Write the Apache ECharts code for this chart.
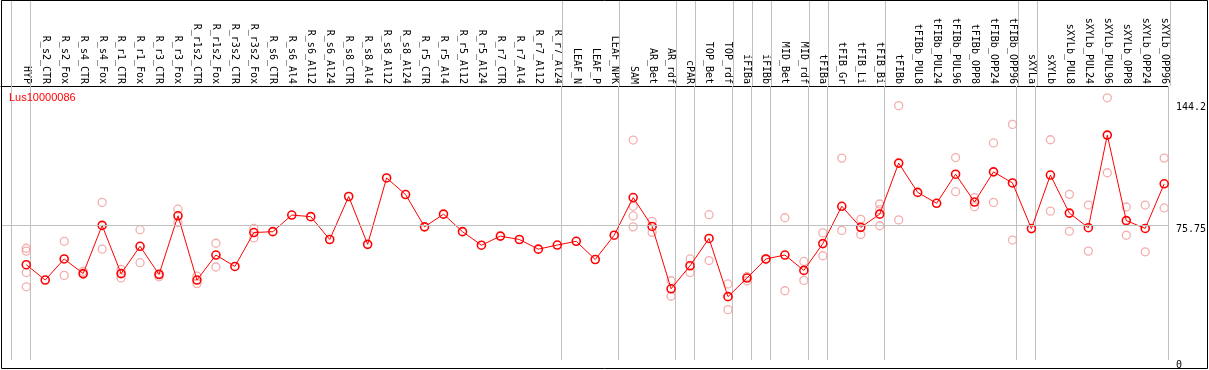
<!DOCTYPE html>
<html>
<head>
<meta charset="utf-8">
<script src="https://cdn.jsdelivr.net/npm/echarts@6/dist/echarts.min.js"></script>
<style>
html,body{margin:0;padding:0;background:#fff;}
#chart{width:1209px;height:370px;}
</style>
</head>
<body>
<div id="chart"></div>
<script>
const titleText = 'Lus10000086';

const categories = ['HYP','R_s2_CTR','R_s2_Fox','R_s4_CTR','R_s4_Fox','R_r1_CTR','R_r1_Fox','R_r3_CTR','R_r3_Fox',
  'R_r1s2_CTR','R_r1s2_Fox','R_r3s2_CTR','R_r3s2_Fox','R_s6_CTR','R_s6_Al4','R_s6_Al12','R_s6_Al24',
  'R_s8_CTR','R_s8_Al4','R_s8_Al12','R_s8_Al24','R_r5_CTR','R_r5_Al4','R_r5_Al12','R_r5_Al24',
  'R_r7_CTR','R_r7_Al4','R_r7_Al12','R_r7_Al24','LEAF_N','LEAF_P','LEAF_NPK','SAM','AR_Bet','AR_rdf',
  'cPAR','TOP_Bet','TOP_rdf','iFIBa','iFIBb','MID_Bet','MID_rdf','tFIBa','tFIB_Gr','tFIB_Li','tFIB_Bi',
  'tFIBb','tFIBb_PUL8','tFIBb_PUL24','tFIBb_PUL96','tFIBb_OPP8','tFIBb_OPP24','tFIBb_OPP96',
  'sXYLa','sXYLb','sXYLb_PUL8','sXYLb_PUL24','sXYLb_PUL96','sXYLb_OPP8','sXYLb_OPP24','sXYLb_OPP96'];

const means = [53.4, 44.8, 56.6, 48.4, 75.4, 48.4, 63.7, 47.9, 80.8, 44.8, 58.8, 52.4, 71.4, 71.9, 81.2,
  80.3, 67.5, 91.6, 64.8, 102.0, 92.7, 74.6, 81.7, 71.9, 64.3, 69.4, 67.5, 62.1, 64.4, 66.5, 56.3,
  69.9, 91.0, 74.8, 39.9, 52.8, 68.1, 35.5, 45.9, 56.6, 58.8, 50.2, 65.2, 86.1, 74.3, 81.7,
  110.3, 93.9, 87.8, 104.1, 88.5, 105.4, 99.2, 73.6, 103.6, 82.3, 74.1, 126.0, 78.1, 73.7, 98.7];

const replicates = [
  [62.6, 61.0, 49.0, 41.0], [], [66.5, 47.4], [49.7, 47.9], [88.3, 62.1], [50.8, 46.0], [73.0, 54.5],
  [48.4, 46.6], [84.5, 77.0], [47.0, 42.8], [65.4, 52.1], [], [73.7, 68.4], [], [],
  [], [], [], [], [], [], [], [], [], [], [], [], [], [], [], [],
  [], [123.2, 86.1, 80.7, 74.6], [77.7, 71.5], [44.4, 35.7], [56.6, 49.0], [81.4, 55.7], [42.6, 28.2],
  [46.8, 44.4], [56.8, 56.3], [79.7, 38.8], [55.2, 44.6], [71.2, 58.4], [113.1, 72.6], [78.8, 70.3],
  [87.4, 84.2, 75.2],
  [142.5, 78.5], [], [], [113.4, 94.3], [91.0, 85.9], [121.6, 88.3], [132.0, 67.2], [],
  [123.4, 83.4], [92.8, 72.1], [86.8, 61.0], [146.9, 104.9], [85.7, 69.9], [86.8, 60.6], [113.1, 85.2]
];

// index of last category in each group (-1 = line before the first category)
const groupEnds = [-1, 0, 28, 31, 34, 35, 37, 38, 39, 41, 42, 45, 52, 53, 60];
const yTickValues = [0, 75.75, 144.2];
const gridLineValue = 75.75;

const X_MIN = -1.332, X_MAX = 60.195, SEP_OFF = 0.21;
const Y_MAX = 153.5;

const meanData = means.map((v, i) => [i, v]);
const repData = [];
replicates.forEach((arr, i) => arr.forEach(v => repData.push([i, v])));
const sepData = groupEnds.map(g => [g + SEP_OFF, 0.5]);
const catTicks = categories.map((c, i) => i);

const chart = echarts.init(document.getElementById('chart'), null, { renderer: 'canvas' });
const mono = 'DejaVu Sans Mono';

function sepRender(params, api) {
  const cs = params.coordSys;
  const x = Math.round(api.coord([api.value(0), api.value(1)])[0]) + 0.5;
  return {
    type: 'line', silent: true,
    shape: { x1: x, y1: cs.y, x2: x, y2: cs.y + cs.height },
    style: { stroke: '#c0c0c0', lineWidth: 1 }
  };
}

chart.setOption({
  animation: false,
  backgroundColor: '#ffffff',
  title: {
    text: titleText, left: 9, top: 92, padding: 0,
    textStyle: { color: '#ff0000', fontSize: 11, fontWeight: 'normal', fontFamily: 'Liberation Sans' }
  },
  grid: [
    { left: 1, right: 39, top: 0, height: 86 },
    { left: 1, right: 39, top: 86, bottom: 3 }
  ],
  xAxis: [
    { gridIndex: 0, type: 'value', min: X_MIN, max: X_MAX, show: false, splitLine: { show: false } },
    {
      gridIndex: 1, type: 'value', min: X_MIN, max: X_MAX, position: 'top',
      axisLine: { show: true, onZero: false, lineStyle: { color: '#000', width: 1 } },
      axisTick: { show: false }, splitLine: { show: false },
      axisLabel: {
        customValues: catTicks, rotate: 90, margin: 2, fontFamily: mono, fontSize: 10, color: '#000',
        formatter: v => categories[Math.round(v)] || ''
      }
    }
  ],
  yAxis: [
    { gridIndex: 0, type: 'value', min: 0, max: 1, show: false, splitLine: { show: false } },
    {
      gridIndex: 1, type: 'value', min: 0, max: Y_MAX, position: 'right',
      axisLine: { show: false }, axisTick: { show: false }, splitLine: { show: false },
      axisLabel: {
        customValues: yTickValues, margin: 8, fontFamily: mono, fontSize: 10, color: '#000',
        verticalAlign: 'top', lineHeight: 10,
        formatter: v => String(v)
      }
    }
  ],
  graphic: [{
    type: 'rect', silent: true, z: 100,
    shape: { x: 1.5, y: 0.5, width: 1206, height: 368 },
    style: { fill: 'none', stroke: '#000', lineWidth: 1 }
  }],
  series: [
    {
      name: 'headerSep', type: 'custom', xAxisIndex: 0, yAxisIndex: 0, data: sepData, z: 1,
      renderItem: sepRender, silent: true, clip: false
    },
    {
      name: 'plotSep', type: 'custom', xAxisIndex: 1, yAxisIndex: 1, data: sepData, z: 1,
      renderItem: sepRender, silent: true, clip: false,
      markLine: { silent: true, symbol: 'none', label: { show: false },
        lineStyle: { color: '#c0c0c0', width: 1, type: 'solid' },
        data: [{ yAxis: gridLineValue }] }
    },
    {
      name: 'replicates', type: 'scatter', xAxisIndex: 1, yAxisIndex: 1, data: repData, z: 2,
      symbol: 'circle', symbolSize: 8,
      itemStyle: { color: 'rgba(255,255,255,0)', borderColor: '#f09a9a', borderWidth: 1.3 }
    },
    {
      name: 'mean', type: 'line', xAxisIndex: 1, yAxisIndex: 1, data: meanData, z: 3,
      symbol: 'circle', symbolSize: 8, showAllSymbol: true,
      lineStyle: { color: '#ff0000', width: 1 },
      itemStyle: { color: 'rgba(255,255,255,0)', borderColor: '#ff0000', borderWidth: 1.6 }
    }
  ]
});
</script>
</body>
</html>
